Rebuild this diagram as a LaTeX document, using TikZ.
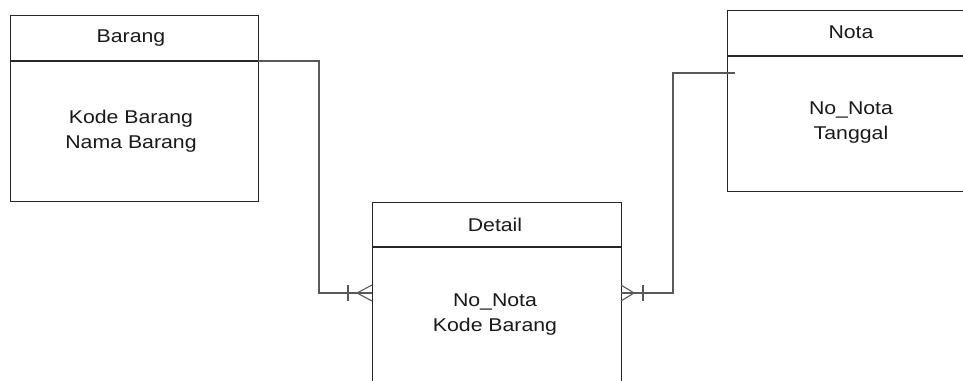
\documentclass[tikz,border=0pt]{standalone}
\usepackage{fontspec}
\setmainfont{Liberation Sans}
\begin{document}
\begin{tikzpicture}[x=1pt,y=-1pt,
  entity/.style={draw=black!85, line width=1.4pt, rectangle, inner sep=0pt, anchor=north west},
  hdr/.style={draw=black!85, line width=1.4pt},
  conn/.style={draw=black!65, line width=1.1pt},
  lbl/.style={font=\fontsize{18.5}{25}\selectfont, text=black!90, align=center, inner sep=0pt}]
\useasboundingbox (0,0) rectangle (963,380);
\clip (0,0) rectangle (963,380);
% entities
\node[entity, minimum width=248pt, minimum height=186pt] (barang) at (10,15) {};
\draw[hdr] (10,61) -- (258,61);
\node[lbl] (tb) at (131,38) {\scalebox{1.15}[1]{Barang}};
\node[lbl] (ab) at (131,131) {\scalebox{1.15}[1]{Kode Barang}\\\scalebox{1.15}[1]{Nama Barang}};

\node[entity, minimum width=249pt, minimum height=210pt] (detail) at (372,202) {};
\draw[hdr] (372,247) -- (621,247);
\node[lbl] (td) at (495,225) {\scalebox{1.15}[1]{Detail}};
\node[lbl] (ad) at (495,315) {\scalebox{1.15}[1]{No\_Nota}\\\scalebox{1.15}[1]{Kode Barang}};

\node[entity, minimum width=240pt, minimum height=181pt] (nota) at (727,10) {};
\draw[hdr] (727,56) -- (967,56);
\node[lbl] (tn) at (851,32) {\scalebox{1.15}[1]{Nota}};
\node[lbl] (an) at (851,123) {\scalebox{1.15}[1]{No\_Nota}\\\scalebox{1.15}[1]{Tanggal}};

% connection points
\coordinate (b1) at (258,61);
\coordinate (d1) at (372,293);
\coordinate (d2) at (621,293);
\coordinate (n1) at (735,73);

% Barang -- Detail
\draw[conn] (b1) -- (319,61) -- (319,293) -- (d1);
\draw[conn] (348,285) -- (348,301);
\draw[conn] (357,293) -- (372,285);
\draw[conn] (357,293) -- (372,301);

% Nota -- Detail
\draw[conn] (n1) -- (673,73) -- (673,293) -- (d2);
\draw[conn] (643,285) -- (643,301);
\draw[conn] (634,293) -- (621,285);
\draw[conn] (634,293) -- (621,301);
\end{tikzpicture}
\end{document}
